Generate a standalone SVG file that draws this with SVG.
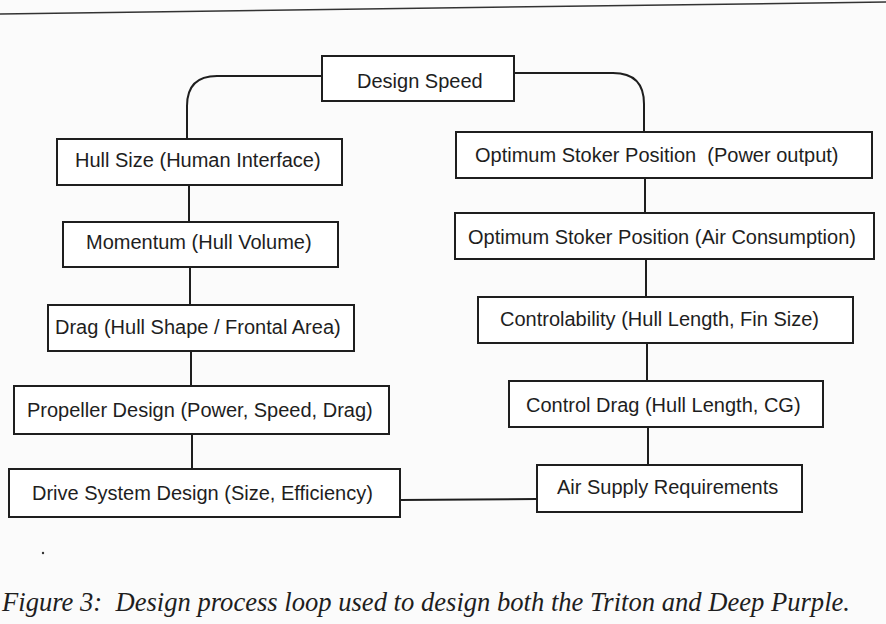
<svg xmlns="http://www.w3.org/2000/svg" width="886" height="624" viewBox="0 0 886 624">
<style>
.box{fill:#ffffff;stroke:#1e1e1e;stroke-width:2}
.lbl{font-family:"Liberation Sans",Arial,Helvetica,sans-serif;font-size:20px;fill:#1e1e1e;white-space:pre}
.con{fill:none;stroke:#1e1e1e;stroke-width:2}
.cap{font-family:"Liberation Serif","Times New Roman",serif;font-style:italic;font-size:27px;fill:#1e1e1e}
</style>
<rect width="886" height="624" fill="#fbfbfb"/>
<line x1="0" y1="14" x2="886" y2="2" stroke="#333" stroke-width="1.5"/>
<g id="connectors">
<path class="con" d="M322,76 H217 Q187,76 187,106 V139"/>
<path class="con" d="M514,73 H613 Q644,73 644,104 V132"/>
<line class="con" x1="189" y1="185" x2="189" y2="222"/>
<line class="con" x1="190" y1="267" x2="190" y2="305"/>
<line class="con" x1="191" y1="351" x2="191" y2="386"/>
<line class="con" x1="192" y1="434" x2="192" y2="469"/>
<line class="con" x1="645" y1="178" x2="645" y2="213"/>
<line class="con" x1="646" y1="259" x2="646" y2="297"/>
<line class="con" x1="647" y1="343" x2="647" y2="381"/>
<line class="con" x1="648" y1="427" x2="648" y2="465"/>
<line class="con" x1="400" y1="500" x2="537" y2="499"/>
</g>
<g id="design-speed"><rect class="box" x="322" y="56" width="192" height="45"/><text class="lbl" x="357" y="88">Design Speed</text></g>
<g id="hull-size"><rect class="box" x="57" y="139" width="285" height="46"/><text class="lbl" x="75" y="167">Hull Size (Human Interface)</text></g>
<g id="momentum"><rect class="box" x="63" y="222" width="275" height="45"/><text class="lbl" x="86" y="249">Momentum (Hull Volume)</text></g>
<g id="drag"><rect class="box" x="48" y="305" width="306" height="46"/><text class="lbl" x="55" y="334">Drag (Hull Shape / Frontal Area)</text></g>
<g id="propeller"><rect class="box" x="14" y="386" width="375" height="48"/><text class="lbl" x="27" y="417">Propeller Design (Power, Speed, Drag)</text></g>
<g id="drive-system"><rect class="box" x="9" y="469" width="391" height="48"/><text class="lbl" x="32" y="500">Drive System Design (Size, Efficiency)</text></g>
<g id="stoker-power"><rect class="box" x="456" y="132" width="416" height="46"/><text class="lbl" x="475" y="162">Optimum Stoker Position  (Power output)</text></g>
<g id="stoker-air"><rect class="box" x="455" y="213" width="419" height="46"/><text class="lbl" x="468" y="244">Optimum Stoker Position (Air Consumption)</text></g>
<g id="controlability"><rect class="box" x="478" y="297" width="375" height="46"/><text class="lbl" x="500" y="326">Controlability (Hull Length, Fin Size)</text></g>
<g id="control-drag"><rect class="box" x="509" y="381" width="314" height="46"/><text class="lbl" x="526" y="412">Control Drag (Hull Length, CG)</text></g>
<g id="air-supply"><rect class="box" x="537" y="465" width="265" height="47"/><text class="lbl" x="557" y="494">Air Supply Requirements</text></g>
<circle cx="43" cy="553" r="1.2" fill="#333"/>
<text class="cap" x="2" y="611" textLength="848" lengthAdjust="spacingAndGlyphs" xml:space="preserve">Figure 3:  Design process loop used to design both the Triton and Deep Purple.</text>
</svg>
